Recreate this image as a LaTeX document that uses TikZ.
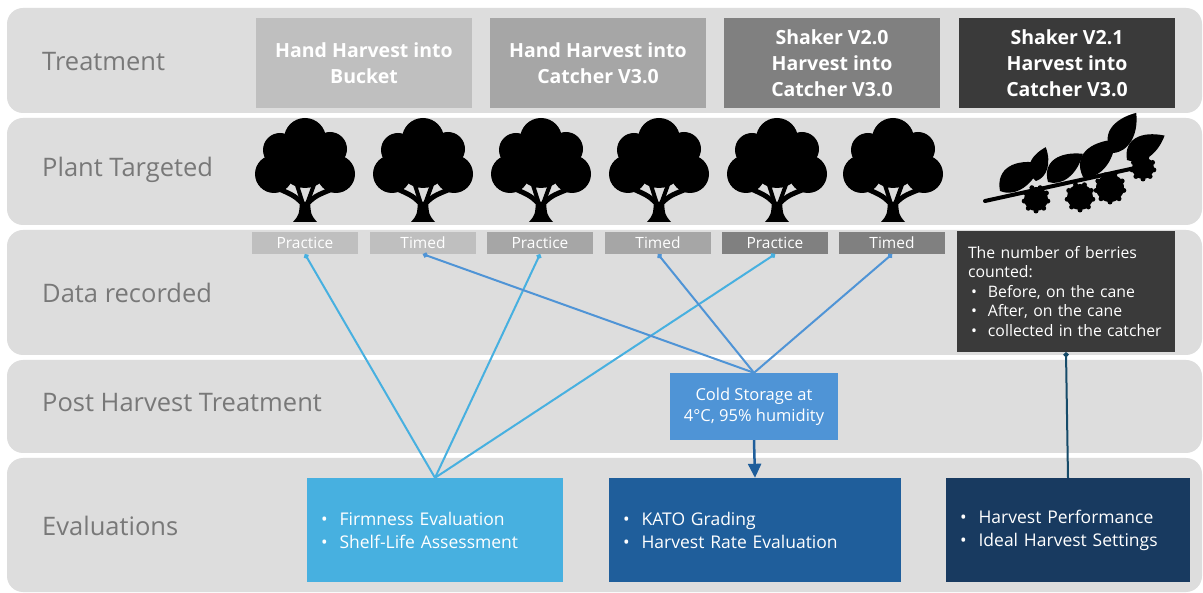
\documentclass[tikz,border=0pt]{standalone}
\usepackage{fontspec}
\setmainfont{Open Sans}
\usetikzlibrary{arrows.meta, positioning, calc}
\definecolor{BandGray}{RGB}{221,221,221}
\definecolor{LabelGray}{RGB}{120,120,120}
\definecolor{GrayA}{RGB}{191,191,191}
\definecolor{GrayB}{RGB}{166,166,166}
\definecolor{GrayC}{RGB}{128,128,128}
\definecolor{GrayD}{RGB}{58,58,58}
\definecolor{SkyBlue}{RGB}{71,176,224}
\definecolor{MidBlue}{RGB}{79,148,214}
\definecolor{DeepBlue}{RGB}{31,94,155}
\definecolor{NavyBlue}{RGB}{24,58,96}
\definecolor{TealLine}{RGB}{22,75,105}

\tikzset{
  tree/.pic={
    % copa
    \fill (0,21) circle (21pt);
    \fill (-25,32) circle (17pt);
    \fill (25,31) circle (17pt);
    \fill (-31,56) circle (19pt);
    \fill (31,56) circle (19pt);
    \fill (0,44) circle (26pt);
    % ramas y tronco
    \draw[line width=5pt, line cap=round] (0,88) .. controls (-10,78) .. (-28,70);
    \draw[line width=4pt, line cap=round] (-2,86) -- (-9,64);
    \draw[line width=4pt, line cap=round] (2,86) -- (10,64);
    \draw[line width=5pt, line cap=round] (0,88) .. controls (10,78) .. (30,70);
    \fill (-12,104) .. controls (-6,97) .. (-5,84) -- (5,84) .. controls (6,97) .. (12,104) -- cycle;
  },
  leaf/.pic={
    \fill (0,0) .. controls (6,-14) and (20,-12) .. (32,0) .. controls (20,9) and (6,9) .. (0,0);
  }
}

\begin{document}
\begin{tikzpicture}[x=1pt, y=-1pt,
    band/.style={fill=BandGray, rounded corners=16pt},
    rowlabel/.style={anchor=west, text=LabelGray, inner sep=0pt, font=\fontsize{25.5}{28}\selectfont},
    treatbox/.style={minimum width=216pt, minimum height=90pt, inner sep=0pt, align=center, text=white, font=\bfseries\fontsize{19.5}{26}\selectfont},
    tagbox/.style={minimum width=106pt, minimum height=22pt, inner sep=0pt, text=white, font=\fontsize{15.5}{16}\selectfont},
    evalbox/.style={minimum height=104pt, inner xsep=12pt, align=left, text=white, font=\fontsize{17.5}{23}\selectfont},
    skylink/.style={SkyBlue, line width=2pt, {Circle[length=5pt]}-},
    bluelink/.style={MidBlue, line width=2pt, {Circle[length=5pt]}-},
    deeplink/.style={DeepBlue, line width=2.5pt, -{Triangle[length=14pt, width=13pt]}},
    teallink/.style={TealLine, line width=2pt, {Circle[length=5pt]}-}
  ]
  \fill[white] (0,0) rectangle (1203,593);
  \useasboundingbox (0,0) rectangle (1203,593);

  % Filas
  \fill[band] (7,8) rectangle (1202,113);
  \fill[band] (7,118) rectangle (1202,225);
  \fill[band] (7,230) rectangle (1202,355);
  \fill[band] (7,360) rectangle (1202,453);
  \fill[band] (7,458) rectangle (1202,592);

  \node[rowlabel] (lbltreat) at (42,62) {Treatment};
  \node[rowlabel] (lblplant) at (42,170) {Plant Targeted};
  \node[rowlabel] (lbldata) at (42,293) {Data recorded};
  \node[rowlabel] (lblpost) at (42,403) {Post Harvest Treatment};
  \node[rowlabel] (lbleval) at (42,526) {Evaluations};

  % Tratamientos
  \node[treatbox, fill=GrayA] (hhbucket) at (364,63) {Hand Harvest into\\Bucket};
  \node[treatbox, fill=GrayB] (hhcatch) at (598,63) {Hand Harvest into\\Catcher V3.0};
  \node[treatbox, fill=GrayC] (shaker20) at (832,63) {Shaker V2.0\\Harvest into\\Catcher V3.0};
  \node[treatbox, fill=GrayD] (shaker21) at (1067,63) {Shaker V2.1\\Harvest into\\Catcher V3.0};

  % Plantas
  \foreach \tx in {305,423,541,659,777,893}
    \pic at (\tx,118) {tree};

  % Rama con frutos
  \draw[line width=4pt, line cap=round] (985,201) -- (1135,168);
  \pic[rotate=34, scale=1.55] at (1000,191) {leaf};
  \pic[rotate=74, scale=1.1] at (1036,181) {leaf};
  \pic[rotate=39, scale=1.4] at (1048,182) {leaf};
  \pic[rotate=49, scale=1.55] at (1083,177) {leaf};
  \pic[rotate=60, scale=1.45] at (1113,153) {leaf};
  \pic[rotate=33, scale=1.4] at (1127,160) {leaf};
  \foreach \bx/\by/\br in {1036/199/12, 1080/197/13, 1110/188/14, 1143/168/11} {
    \fill (\bx,\by) circle (\br pt);
    \foreach \a in {10,50,...,330}
      \fill ($(\bx,\by)+(\a:\br)$) circle (2.5pt);
  }

  % Datos
  \node[tagbox, fill=GrayA] (prac1) at (305,243) {Practice};
  \node[tagbox, fill=GrayA] (timed1) at (423,243) {Timed};
  \node[tagbox, fill=GrayB] (prac2) at (540,243) {Practice};
  \node[tagbox, fill=GrayB] (timed2) at (658,243) {Timed};
  \node[tagbox, fill=GrayC] (prac3) at (775,243) {Practice};
  \node[tagbox, fill=GrayC] (timed3) at (892,243) {Timed};

  \node[fill=GrayD, minimum width=218pt, minimum height=121pt, inner xsep=11pt, text width=196pt, align=left, text=white, font=\fontsize{15.8}{19.5}\selectfont] (count) at (1066,291.5)
    {The number of berries counted:\\
     \hspace*{3pt}\textbullet\hspace{11pt}Before, on the cane\\
     \hspace*{3pt}\textbullet\hspace{11pt}After, on the cane\\
     \hspace*{3pt}\textbullet\hspace{11pt}collected in the catcher};

  % Post cosecha
  \node[fill=MidBlue, minimum width=168pt, minimum height=67pt, inner sep=0pt, align=center, text=white, font=\fontsize{16.5}{21}\selectfont] (cold) at (754,406.5)
    {Cold Storage at\\4°C, 95\% humidity};

  % Evaluaciones
  \node[evalbox, fill=SkyBlue, text width=232pt] (evalA) at (435,530)
    {\hspace*{2pt}\textbullet\hspace{12pt}Firmness Evaluation\\\hspace*{2pt}\textbullet\hspace{12pt}Shelf-Life Assessment};
  \node[evalbox, fill=DeepBlue, text width=268pt] (evalB) at (755,530)
    {\hspace*{2pt}\textbullet\hspace{12pt}KATO Grading\\\hspace*{2pt}\textbullet\hspace{12pt}Harvest Rate Evaluation};
  \node[evalbox, fill=NavyBlue, text width=220pt] (evalC) at (1068,530)
    {\hspace*{2pt}\textbullet\hspace{12pt}Harvest Performance\\\hspace*{2pt}\textbullet\hspace{12pt}Ideal Harvest Settings};

  % Conexiones
  \draw[skylink] (prac1.south) -- (evalA.north);
  \draw[skylink] (prac2.south) -- (evalA.north);
  \draw[skylink] (prac3.south) -- (evalA.north);
  \draw[bluelink] (timed1.south) -- (cold.north);
  \draw[bluelink] (timed2.south) -- (cold.north);
  \draw[bluelink] (timed3.south) -- (cold.north);
  \draw[deeplink] (cold.south) -- (evalB.north);
  \draw[teallink] (count.south) -- (evalC.north);
\end{tikzpicture}
\end{document}
